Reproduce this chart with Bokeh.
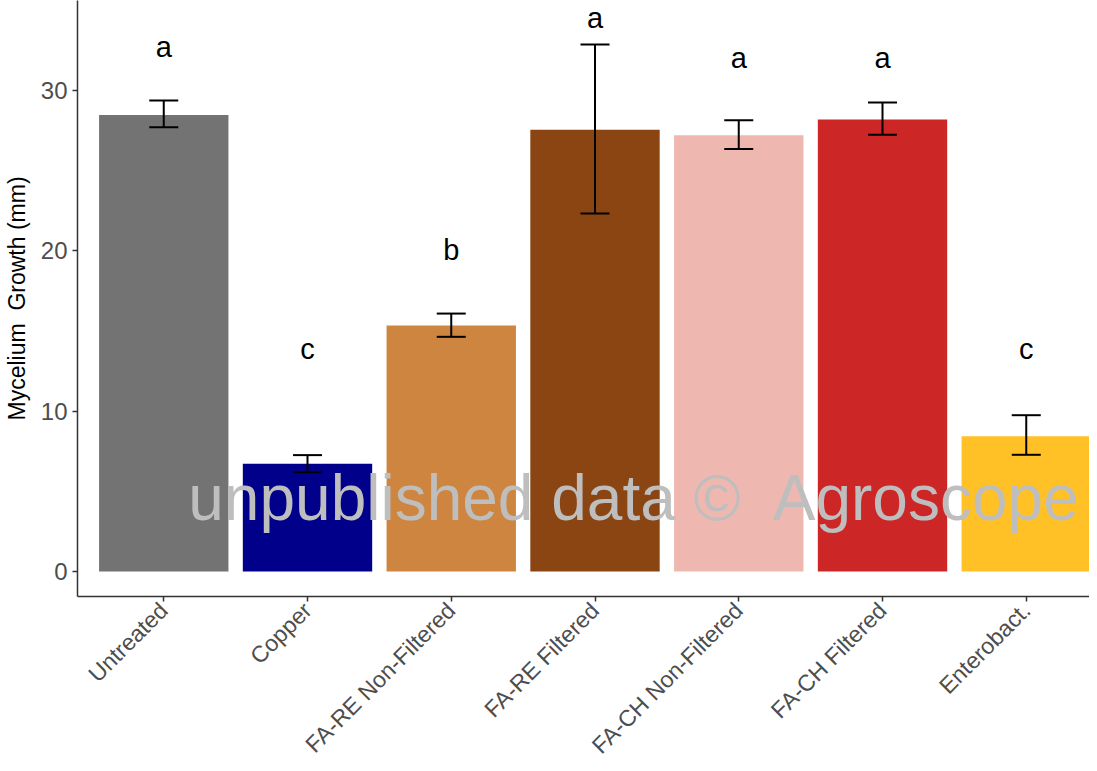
import math
from bokeh.plotting import figure
from bokeh.models import ColumnDataSource, Whisker, TeeHead, Label, FixedTicker
from bokeh.embed import file_html
from bokeh.resources import INLINE

categories = ["Untreated", "Copper", "FA-RE Non-Filtered", "FA-RE Filtered",
              "FA-CH Non-Filtered", "FA-CH Filtered", "Enterobact."]
means = [28.47, 6.72, 15.35, 27.55, 27.22, 28.2, 8.44]
upper = [29.38, 7.26, 16.09, 32.87, 28.15, 29.26, 9.75]
lower = [27.72, 6.19, 14.64, 22.33, 26.36, 27.24, 7.28]
letters = ["a", "c", "b", "a", "a", "a", "c"]
letter_y = [32.13, 13.29, 19.5, 33.95, 31.49, 31.49, 13.33]
colors = ["#737373", "#00008B", "#CD853F", "#8B4513", "#EEB8B0", "#CD2626", "#FFC125"]
yticks = [0, 10, 20, 30]
watermark = "unpublished data \u00a9\u00a0 Agroscope"
ylabel = "Mycelium\u00a0 Growth (mm)"

Y0, Y1 = -1.56, 35.62

xs = list(range(1, len(categories) + 1))
src = ColumnDataSource(dict(x=xs, top=means, upper=upper, lower=lower, color=colors))

FONT = "Liberation Sans"

p = figure(width=1089, height=770, output_backend="svg", toolbar_location=None,
           x_range=(0.4, 7.44), y_range=(Y0, Y1),
           min_border_left=76, min_border_right=0, min_border_top=0, min_border_bottom=160)
p.outline_line_color = None
p.grid.visible = False
p.background_fill_color = "white"
p.border_fill_color = "white"

p.vbar(x="x", top="top", width=0.9, bottom=0, color="color", line_color=None, source=src)

w = Whisker(base="x", upper="upper", lower="lower", source=src, level="annotation",
            line_color="black", line_width=2,
            upper_head=TeeHead(size=29, line_color="black", line_width=2),
            lower_head=TeeHead(size=29, line_color="black", line_width=2))
p.add_layout(w)

wm = Label(x=4.28, y=3.43, text=watermark, text_align="center", text_baseline="alphabetic",
           y_offset=19,
           text_font=FONT, text_font_size="64px", text_color="#BEBEBE")
p.add_layout(wm)

# significance letters
for xv, yv, t in zip(xs, letter_y, letters):
    p.add_layout(Label(x=xv, y=yv, text=t, text_align="center", text_baseline="alphabetic",
                       y_offset=9,
                       text_font=FONT, text_font_size="29px", text_color="black"))

# axes
for ax in (p.xaxis[0], p.yaxis[0]):
    ax.axis_line_color = "#333333"
    ax.axis_line_width = 1.5
    ax.major_tick_line_color = "#333333"
    ax.major_tick_line_width = 1.5
    ax.major_tick_out = 5
    ax.major_tick_in = 0
    ax.minor_tick_line_color = None
    ax.major_label_text_font = FONT
    ax.major_label_text_color = "#4d4d4d"

p.xaxis.ticker = FixedTicker(ticks=xs)
p.xaxis.major_label_overrides = {i: c for i, c in zip(xs, categories)}
p.xaxis.major_label_orientation = math.pi / 4
p.xaxis.major_label_text_font_size = "23px"
p.xaxis.major_label_standoff = 5

p.yaxis.ticker = FixedTicker(ticks=yticks)
p.yaxis.major_label_text_font_size = "24px"
p.yaxis.axis_label = ylabel
p.yaxis.axis_label_text_font = FONT
p.yaxis.axis_label_text_font_size = "23px"
p.yaxis.axis_label_text_font_style = "normal"
p.yaxis.axis_label_text_color = "black"
p.yaxis.axis_label_standoff = 8

open("out.html", "w").write(file_html(p, INLINE))
